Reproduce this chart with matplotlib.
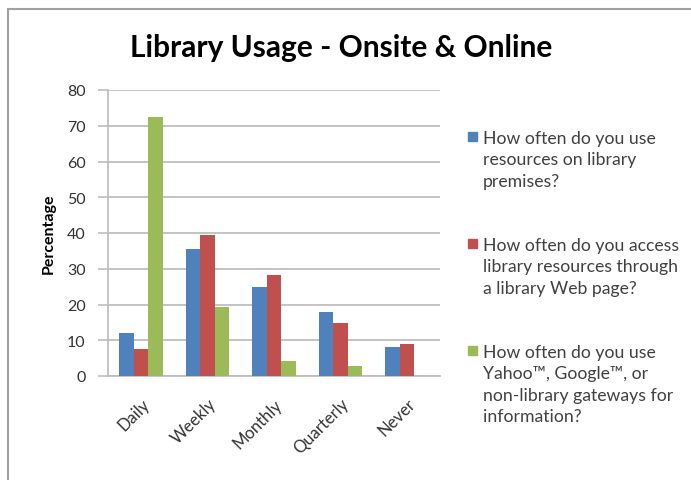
import numpy as np
import matplotlib.pyplot as plt
from matplotlib.patches import Rectangle

categories = ["Daily", "Weekly", "Monthly", "Quarterly", "Never"]
premises = [12.0, 35.5, 25.0, 18.0, 8.1]
web_page = [7.6, 39.4, 28.3, 14.7, 9.0]
gateways = [72.4, 19.2, 4.1, 2.8, 0.0]

series_labels = [
    "How often do you use\nresources on library\npremises?",
    "How often do you access\nlibrary resources through\na library Web page?",
    "How often do you use\nYahoo\u2122, Google\u2122, or\nnon-library gateways for\ninformation?",
]
colors = ["#4F81BD", "#C0504D", "#9BBB59"]

plt.rcParams["font.family"] = ["Lato", "DejaVu Sans"]

W, H = 691, 481
fig = plt.figure(figsize=(W / 100, H / 100), dpi=100)
ax = fig.add_axes([108 / W, 1 - 377 / H, (440 - 108) / W, (377 - 91) / H])

x = np.arange(len(categories))
bw = 0.218
for i, (vals, c) in enumerate(zip([premises, web_page, gateways], colors)):
    ax.bar(x + (i - 1) * bw, vals, bw, color=c, zorder=3)

ax.set_xlim(-0.5, len(categories) - 0.5)
ax.set_ylim(0, 80)
ax.set_yticks(np.arange(0, 81, 10))
ax.yaxis.grid(True, color="#BEBEBE", linewidth=1.3, zorder=0)
ax.set_xticks(x)
ax.set_xticklabels(categories, rotation=45, ha="right", rotation_mode="anchor",
                   fontsize=12, color="#333333")
ax.tick_params(axis="x", length=0, pad=14)
ax.tick_params(axis="y", length=7, color="#BEBEBE", width=1.2, labelsize=11.5,
               labelcolor="#333333", pad=9)
for s in ["top", "right"]:
    ax.spines[s].set_visible(False)
for s in ["left", "bottom"]:
    ax.spines[s].set_color("#BEBEBE")
    ax.spines[s].set_linewidth(1.3)
ax.set_ylabel("Percentage", fontsize=11.5, fontweight="bold", labelpad=8)

fig.text(341 / W, 1 - 48 / H, "Library Usage - Onsite & Online", ha="center",
         va="center", fontsize=21.5, fontweight="bold")

# legend drawn by hand so the square sits beside the first line
tops = [131, 238, 345]
for lab, c, t in zip(series_labels, colors, tops):
    fig.patches.append(Rectangle((468 / W, 1 - (t + 10.5) / H), 9 / W, 9 / H,
                                 transform=fig.transFigure, color=c))
    fig.text(483 / W, 1 - t / H, lab, ha="left", va="top", fontsize=12.7,
             color="#404040", linespacing=1.42)

# outer frame
fig.patches.append(Rectangle((8 / W, -0.1), 1.2, 1.1 - 10 / H,
                             transform=fig.transFigure, fill=False,
                             edgecolor="#A0A0A0", linewidth=1.5))

fig.savefig("out.png", dpi=100)
